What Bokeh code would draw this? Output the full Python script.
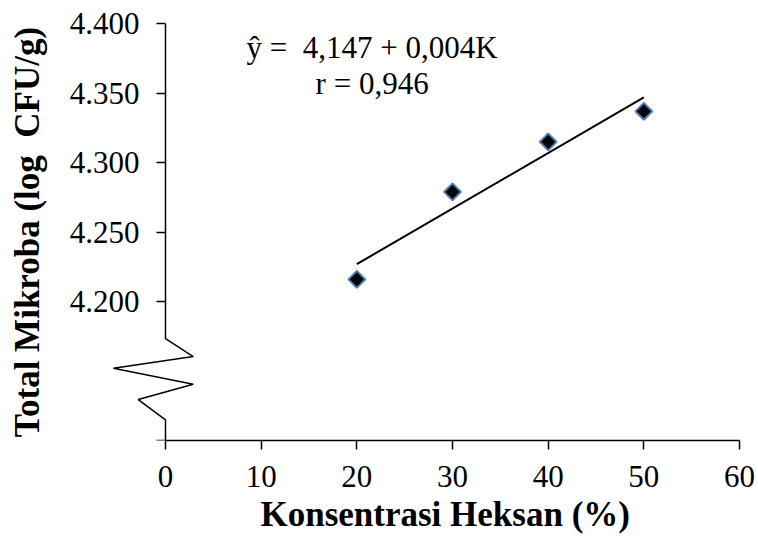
import numpy as np
from bokeh.plotting import figure
from bokeh.models import Range1d, FixedTicker, NumeralTickFormatter, LinearAxis, Label, Title
from bokeh.embed import file_html
from bokeh.resources import INLINE

# ---- data ----
konsentrasi = [20, 30, 40, 50]                  # Konsentrasi Heksan (%)
total_mikroba = [4.216, 4.279, 4.315, 4.337]    # log CFU/g
intercept = 4.147
slope = 0.004
r_value = 0.946
x_ticks = [0, 10, 20, 30, 40, 50, 60]
y_ticks = [4.100, 4.200, 4.250, 4.300, 4.350, 4.400]

# axis line with the break (zigzag) symbol, in data units
break_x = [0, 0, 2.9, -5.44, 2.9, -2.85, 0, 0]
break_y = [4.4, 4.1734, 4.1604, 4.152, 4.1405, 4.1295, 4.1149, 4.1]

SERIF = "Liberation Serif"

p = figure(frame_width=739, frame_height=430,
           x_range=Range1d(-17.247, 60), y_range=Range1d(4.1, 4.4096),
           output_backend="svg", toolbar_location=None,
           y_axis_location=None,
           min_border_left=0, min_border_right=19, min_border_top=10, min_border_bottom=0)
p.grid.visible = False
p.outline_line_color = None
p.background_fill_color = "white"
p.border_fill_color = "white"

# x axis
xa = p.xaxis[0]
xa.ticker = FixedTicker(ticks=x_ticks)
xa.bounds = (0, 60)
xa.axis_line_width = 1.5
xa.major_tick_line_width = 1.5
xa.major_tick_in = 0
xa.major_tick_out = 9
xa.minor_tick_line_color = None
xa.major_label_text_font = SERIF
xa.major_label_text_font_size = "31px"
xa.major_label_text_color = "black"
xa.major_label_standoff = 16

# x axis title (under the 0-60 axis span)
x_title = Title(text="Konsentrasi Heksan (%)", align="left", offset=260,
                text_font=SERIF, text_font_size="35px", text_font_style="bold",
                text_color="black", vertical_align="bottom", standoff=7)
p.add_layout(x_title, "below")

# y axis, fixed at x = 0
ya = LinearAxis(fixed_location=0,
                ticker=FixedTicker(ticks=y_ticks),
                formatter=NumeralTickFormatter(format="0.000"),
                major_label_overrides={4.1: "", "4.1": ""},
                bounds=(4.1, 4.4),
                axis_line_color=None,
                major_tick_line_width=1.5,
                major_tick_in=0, major_tick_out=9,
                minor_tick_line_color=None,
                major_label_text_font=SERIF,
                major_label_text_font_size="31px",
                major_label_text_color="black",
                major_label_standoff=17,
                axis_label="Total Mikroba (log\u00a0 CFU/g)",
                axis_label_text_font=SERIF,
                axis_label_text_font_size="35px",
                axis_label_text_font_style="bold",
                axis_label_text_color="black",
                axis_label_standoff=20)
p.add_layout(ya, "left")

# y axis line with break
p.line(break_x, break_y, line_color="black", line_width=1.5)

# regression line
reg_x = np.array([konsentrasi[0], konsentrasi[-1]], dtype=float)
reg_y = intercept + slope * reg_x
p.line(reg_x, reg_y, line_color="black", line_width=2)

# data points
p.scatter(konsentrasi, total_mikroba, marker="square", angle=np.pi / 4, size=12,
          fill_color="black", line_color="#4F81BD", line_width=2)

# equation text
def fmt(v):
    return f"{v:.3f}".replace(".", ",")

eq1 = Label(x=21.6, y=4.38315, text=f"\u0177 =\u00a0 {fmt(intercept)} + {fmt(slope)}K",
            text_font=SERIF, text_font_size="31px", text_align="center",
            text_baseline="alphabetic", text_color="black")
eq2 = Label(x=21.6, y=4.3568, text=f"r = {fmt(r_value)}",
            text_font=SERIF, text_font_size="31px", text_align="center",
            text_baseline="alphabetic", text_color="black")
p.add_layout(eq1)
p.add_layout(eq2)

open("out.html", "w").write(file_html(p, INLINE))
